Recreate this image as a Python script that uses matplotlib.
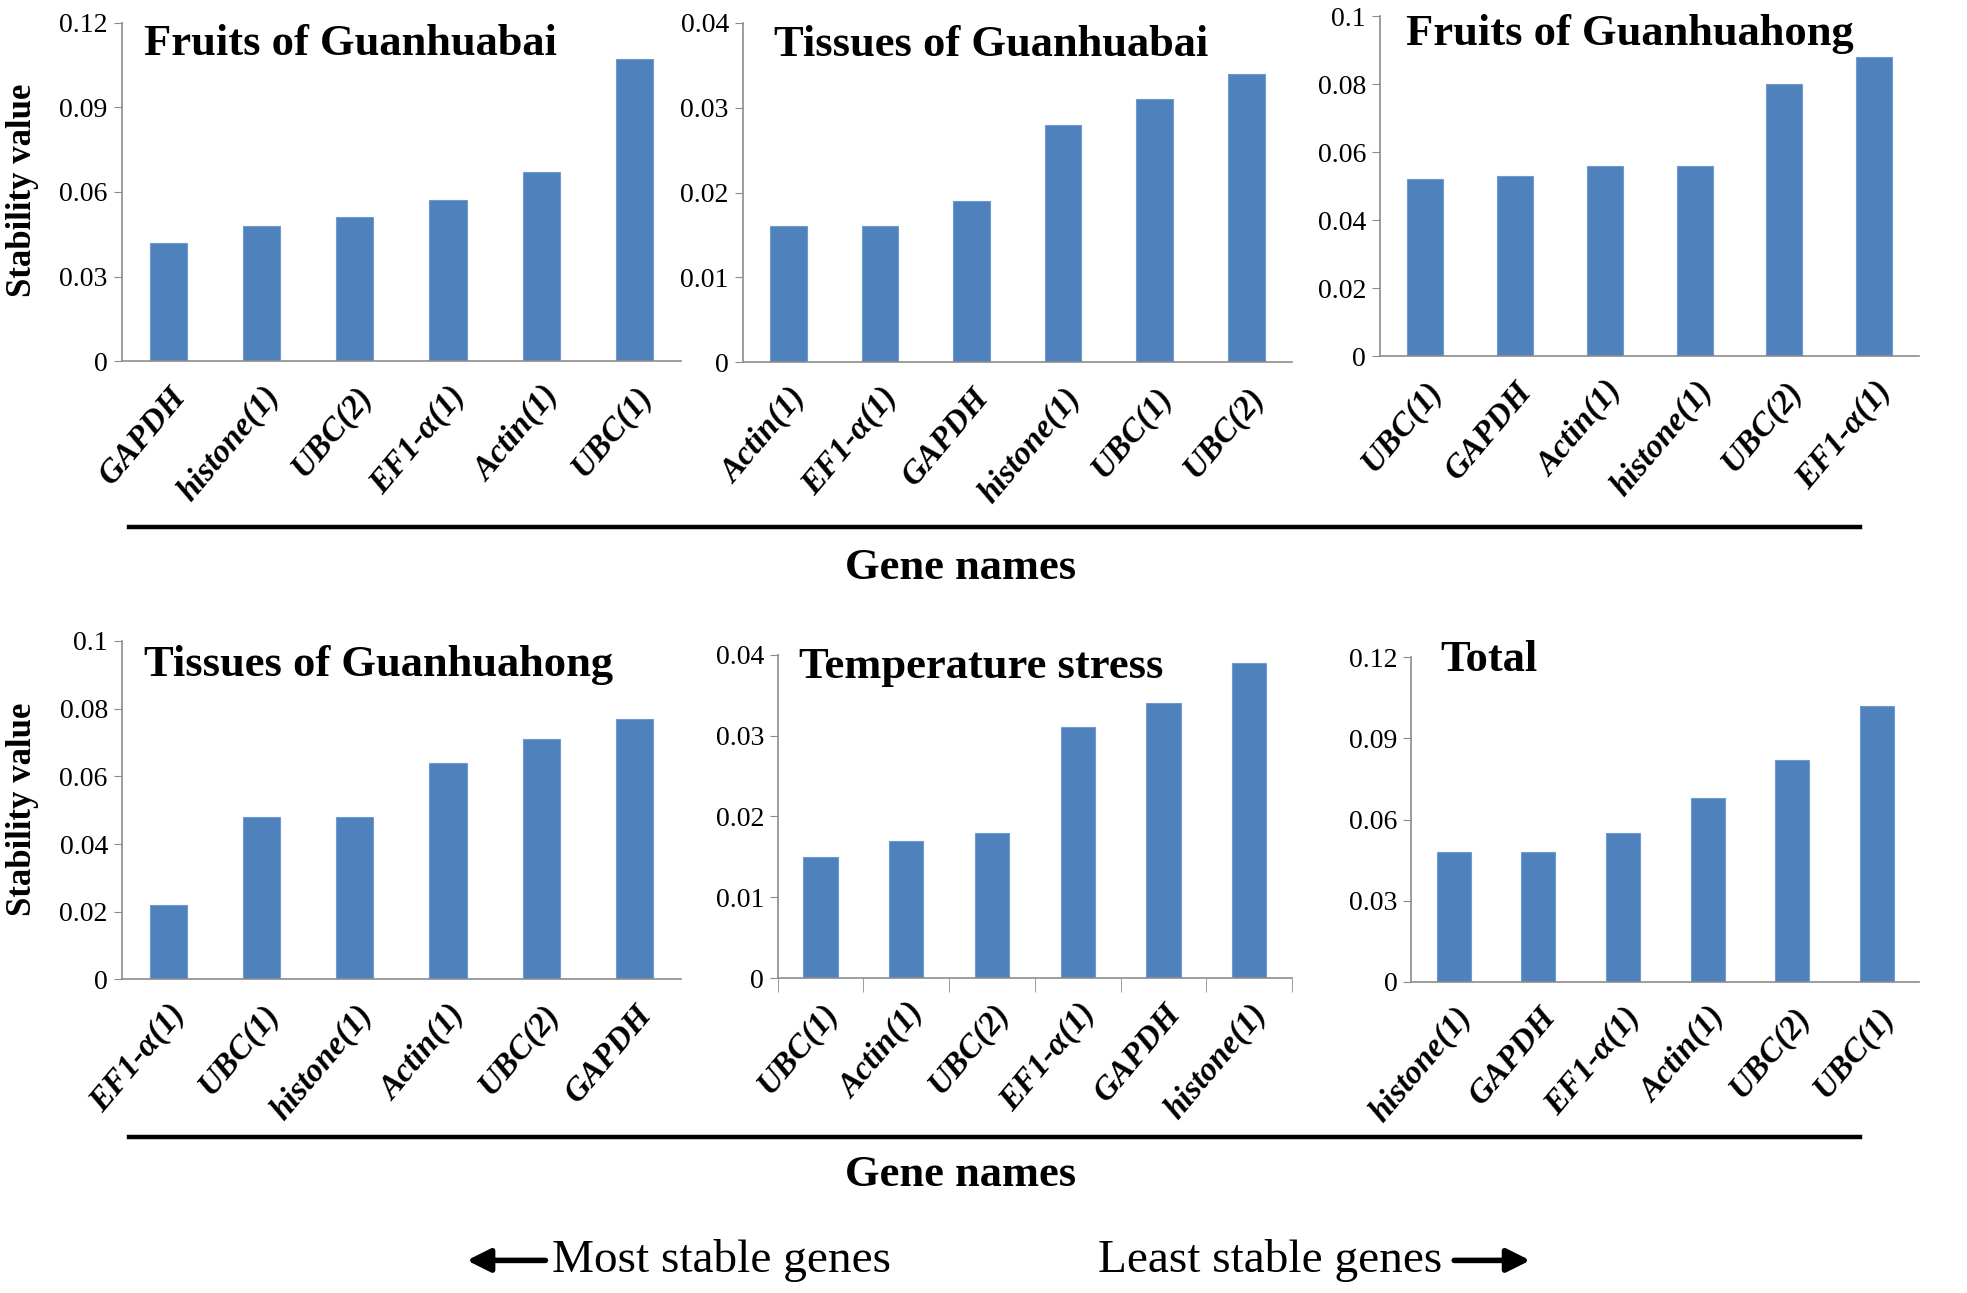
import numpy as np
import matplotlib
matplotlib.use("Agg")
import matplotlib.pyplot as plt
from matplotlib import ticker

# data
titles = ["Fruits of Guanhuabai", "Tissues of Guanhuabai", "Fruits of Guanhuahong",
          "Tissues of Guanhuahong", "Temperature stress", "Total"]

genes_fgb = ["GAPDH", "histone(1)", "UBC(2)", "EF1-\u03b1(1)", "Actin(1)", "UBC(1)"]
vals_fgb = [0.042, 0.048, 0.051, 0.057, 0.067, 0.107]

genes_tgb = ["Actin(1)", "EF1-\u03b1(1)", "GAPDH", "histone(1)", "UBC(1)", "UBC(2)"]
vals_tgb = [0.016, 0.016, 0.019, 0.028, 0.031, 0.034]

genes_fgh = ["UBC(1)", "GAPDH", "Actin(1)", "histone(1)", "UBC(2)", "EF1-\u03b1(1)"]
vals_fgh = [0.052, 0.053, 0.056, 0.056, 0.080, 0.088]

genes_tgh = ["EF1-\u03b1(1)", "UBC(1)", "histone(1)", "Actin(1)", "UBC(2)", "GAPDH"]
vals_tgh = [0.022, 0.048, 0.048, 0.064, 0.071, 0.077]

genes_temp = ["UBC(1)", "Actin(1)", "UBC(2)", "EF1-\u03b1(1)", "GAPDH", "histone(1)"]
vals_temp = [0.015, 0.017, 0.018, 0.031, 0.034, 0.039]

genes_total = ["histone(1)", "GAPDH", "EF1-\u03b1(1)", "Actin(1)", "UBC(2)", "UBC(1)"]
vals_total = [0.048, 0.048, 0.055, 0.068, 0.082, 0.102]

yticks_fgb = [0, 0.03, 0.06, 0.09, 0.12]
yticks_tgb = [0, 0.01, 0.02, 0.03, 0.04]
yticks_fgh = [0, 0.02, 0.04, 0.06, 0.08, 0.1]
yticks_tgh = [0, 0.02, 0.04, 0.06, 0.08, 0.1]
yticks_temp = [0, 0.01, 0.02, 0.03, 0.04]
yticks_total = [0, 0.03, 0.06, 0.09, 0.12]

genes = [genes_fgb, genes_tgb, genes_fgh, genes_tgh, genes_temp, genes_total]
values = [vals_fgb, vals_tgb, vals_fgh, vals_tgh, vals_temp, vals_total]
yticks = [yticks_fgb, yticks_tgb, yticks_fgh, yticks_tgh, yticks_temp, yticks_total]

plt.rcParams["font.family"] = ["Liberation Serif", "DejaVu Serif"]

W, H = 1568.0, 1031.0  # layout measured on the shrunk reference


def fx(x):
    return x / W


def fy(y):
    return 1 - y / H


# axes boxes in reference pixels: left, right, top, bottom
boxes = [(97, 543, 18, 288), (592, 1030, 18, 289), (1100, 1530, 13, 284),
         (97, 543, 511, 781), (620, 1030, 522, 780), (1125, 1530, 524, 783)]
title_pos = [(115, 19), (617, 20), (1121, 11), (115, 514), (637, 516), (1148, 510)]

fig = plt.figure(figsize=(19.67, 12.93), dpi=100)
shift = matplotlib.transforms.ScaledTranslation(6 / 100, 0, fig.dpi_scale_trans)

for i in range(6):
    l, r, t, b = boxes[i]
    ax = fig.add_axes([fx(l), fy(b), fx(r) - fx(l), fy(t) - fy(b)])
    x = np.arange(len(genes[i]))
    ax.bar(x, values[i], width=0.4, color="#4F81BD", edgecolor="#6F9AD0", linewidth=0.8)
    ax.set_xlim(-0.5, len(genes[i]) - 0.5)
    ax.set_ylim(0, yticks[i][-1])
    ax.set_yticks(yticks[i])
    ax.yaxis.set_major_formatter(ticker.FuncFormatter(lambda v, p: "0" if v == 0 else f"{v:g}"))
    ax.set_xticks(x)
    ax.set_xticklabels(genes[i], rotation=50, ha="right", rotation_mode="anchor",
                       fontsize=24, fontweight="bold", fontstyle="italic")
    for lab in ax.get_xticklabels():
        lab.set_transform(lab.get_transform() + shift)
    for s in ["top", "right"]:
        ax.spines[s].set_visible(False)
    for s in ["left", "bottom"]:
        ax.spines[s].set_color("#8c8c8c")
        ax.spines[s].set_linewidth(1.2)
    ax.tick_params(axis="y", labelsize=20, length=6, color="#8c8c8c", pad=4)
    ax.tick_params(axis="x", length=0, pad=14)
    if i == 4:
        ax.set_xticks(np.arange(-0.5, len(genes[i])), minor=True)
        ax.tick_params(axis="x", which="minor", length=10, color="#8c8c8c")
    fig.text(fx(title_pos[i][0]), fy(title_pos[i][1]), titles[i], fontsize=32,
             fontweight="bold", ha="left", va="top")

# y labels
for yc in [152, 645]:
    fig.text(fx(18), fy(yc), "Stability value", rotation=90, fontsize=25,
             fontweight="bold", ha="center", va="center")

# separator lines and axis captions
for yl, yt in [(420, 453), (907, 937)]:
    fig.add_artist(plt.Line2D([fx(103), fx(1483)], [fy(yl), fy(yl)], color="black", lw=3.2))
    fig.text(fx(766), fy(yt), "Gene names", fontsize=32, fontweight="bold",
             ha="center", va="center")

# stability direction arrows
fig.text(fx(440), fy(1005), "Most stable genes", fontsize=34, ha="left", va="center")
fig.text(fx(1150), fy(1005), "Least stable genes", fontsize=34, ha="right", va="center")
fig.add_artist(matplotlib.patches.FancyArrowPatch((fx(437), fy(1005)), (fx(370), fy(1005)),
               transform=fig.transFigure, arrowstyle="-|>", mutation_scale=35,
               lw=4, color="black"))
fig.add_artist(matplotlib.patches.FancyArrowPatch((fx(1157), fy(1005)), (fx(1222), fy(1005)),
               transform=fig.transFigure, arrowstyle="-|>", mutation_scale=35,
               lw=4, color="black"))

fig.savefig("out.png", dpi=100)
